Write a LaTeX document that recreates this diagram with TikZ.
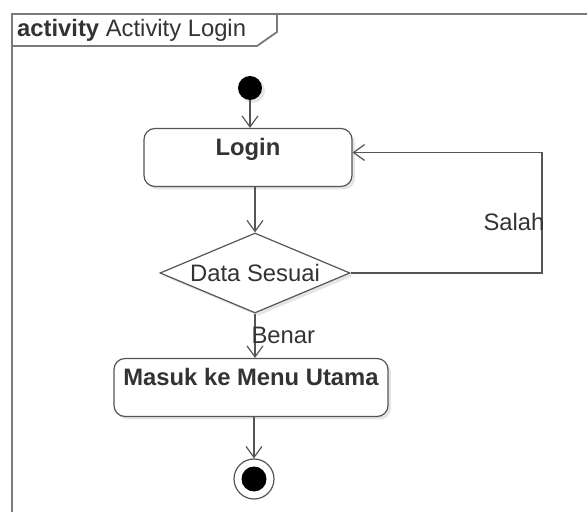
\documentclass[tikz,border=0pt]{standalone}
\usepackage{fontspec}
\setmainfont{Liberation Sans}
\usepackage{tikz}
\usetikzlibrary{arrows.meta,positioning,shapes.geometric,shadows,calc}
\definecolor{umlline}{HTML}{555555}
\definecolor{frameline}{HTML}{7A7A7A}
\definecolor{umltext}{HTML}{333333}
\newcommand{\diagfont}{\fontsize{23.8}{27}\selectfont}
\tikzset{
    frame style/.style={frameline, line width=1.8pt},
    soft shadow/.style={drop shadow={shadow xshift=3pt, shadow yshift=-3pt, opacity=.10, fill=black}},
    action box/.style={draw=umlline, fill=white, line width=1.2pt, rounded corners=11pt, inner xsep=0pt, inner ysep=0pt,
        text height=27pt, text depth=31pt, font=\diagfont\bfseries, soft shadow},
    decision/.style={diamond, draw=umlline, fill=white, line width=1.2pt, aspect=2.375, inner sep=0pt,
        minimum width=190pt, minimum height=80pt, soft shadow},
    start node/.style={circle, fill=black, minimum size=24pt, inner sep=0pt, soft shadow},
    end node/.style={circle, draw=umlline, fill=white, line width=1.2pt, minimum size=40pt, inner sep=0pt,
        path picture={\fill[black] (path picture bounding box.center) circle (12.5pt);}},
    arr/.style={-{Straight Barb[length=11pt,width=16pt]}, umlline, line width=1.2pt},
    edge label/.style={inner sep=0pt, text=umltext},
}
\tikzstyle{every node}=[font=\diagfont, text=umltext]

\begin{document}
\begin{tikzpicture}[x=1pt,y=1pt]
    \useasboundingbox (0,0) rectangle (587,512);

    % frame and its name tab
    \draw[frame style] (12,0) -- (12,498) -- (587,498);
    \draw[frame style] (12,466) -- (257,466) -- (277,480) -- (277,498);
    \node[anchor=west, inner sep=0pt] (title) at (17,482) {\textbf{activity} Activity Login};

    \node[start node] (start) at (250,424) {};
    \node[action box, minimum width=208pt] (login) at (248,354.5) {Login};
    \node[decision] (cek) at (255,239) {Data Sesuai};
    \node[action box, minimum width=274pt] (menu) at (251,124.5) {Masuk ke Menu Utama};
    \node[end node] (finish) at (254,33) {};
    \coordinate (balik) at (542,0);

    \draw[arr] (start) -- (start |- login.north);
    \draw[arr] (login.south -| cek) -- (cek.north);
    \draw[arr] (cek.south) -- (cek.south |- menu.north)
        node[midway, anchor=west, edge label, xshift=-4pt] {Benar};
    \draw[arr] (menu.south -| finish) -- (finish.north);
    \draw[arr] (cek.east) -- (cek.east -| balik) |- ([yshift=5pt]login.east)
        node[pos=.21, anchor=east, edge label, xshift=3pt] {Salah};
\end{tikzpicture}
\end{document}
